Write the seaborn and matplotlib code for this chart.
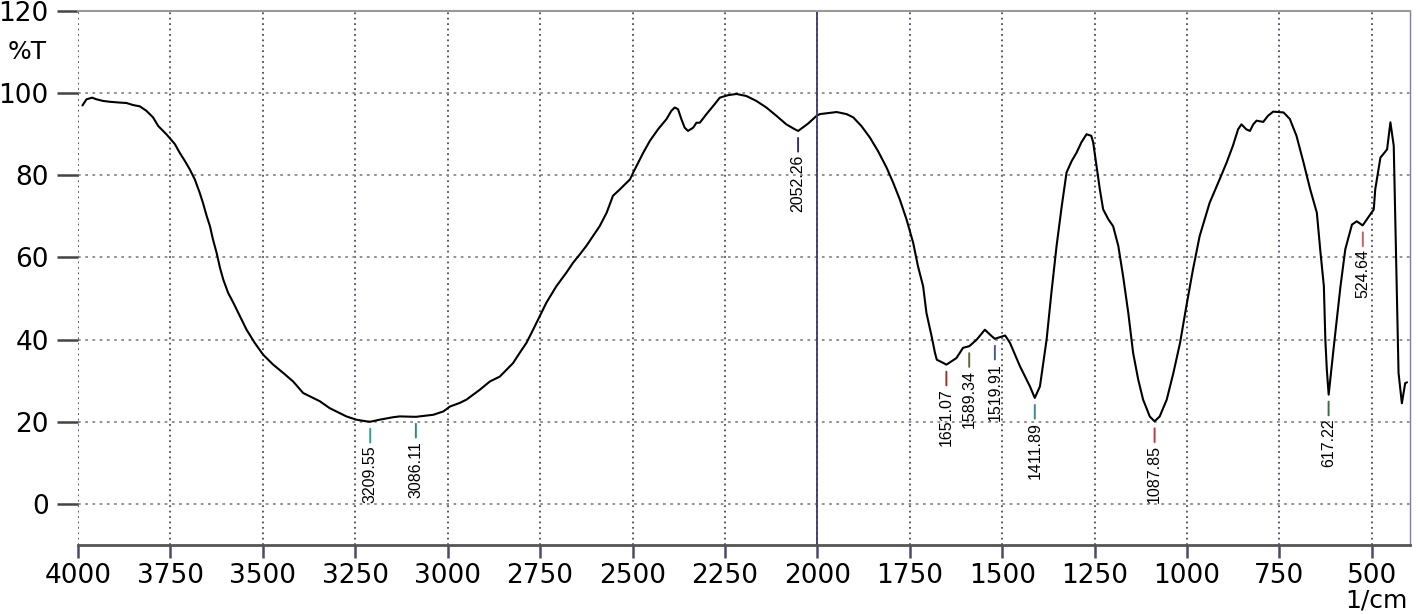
import seaborn as sns
import matplotlib.pyplot as plt

# FTIR spectrum, values
wavenumber = [3988, 3977, 3962, 3950, 3932, 3914, 3887, 3869, 3851, 3833,
              3815, 3797, 3783, 3761, 3738, 3725, 3711, 3698, 3684, 3671,
              3662, 3652, 3643, 3635, 3625, 3616, 3607, 3594, 3580, 3562,
              3544, 3522, 3499, 3472, 3445, 3418, 3391, 3364, 3346, 3319,
              3301, 3274, 3247, 3220, 3210, 3184, 3148, 3130, 3086, 3039,
              3012, 2994, 2967, 2949, 2913, 2886, 2859, 2823, 2805, 2787,
              2769, 2751, 2733, 2706, 2679, 2661, 2643, 2625, 2607, 2589,
              2570, 2553, 2534, 2507, 2498, 2489, 2471, 2453, 2431, 2408,
              2395, 2386, 2377, 2368, 2359, 2350, 2336, 2327, 2318, 2300,
              2278, 2264, 2242, 2219, 2192, 2165, 2138, 2111, 2084, 2061,
              2052, 2025, 2002, 1993, 1948, 1921, 1903, 1881, 1858, 1836,
              1813, 1795, 1777, 1759, 1741, 1728, 1714, 1705, 1691, 1682,
              1677, 1659, 1651, 1624, 1606, 1589, 1569, 1547, 1528, 1520,
              1492, 1479, 1452, 1425, 1412, 1398, 1380, 1367, 1353, 1339,
              1326, 1312, 1299, 1286, 1272, 1259, 1254, 1245, 1236, 1227,
              1213, 1200, 1186, 1173, 1159, 1146, 1132, 1119, 1101, 1088,
              1074, 1055, 1037, 1019, 1002, 984, 966, 939, 912, 893,
              876, 862, 853, 840, 830, 821, 812, 794, 781, 767,
              739, 722, 704, 685, 667, 649, 639, 630, 626, 622,
              617, 603, 585, 572, 554, 541, 525, 495, 491, 477,
              459, 450, 441, 437, 428, 419, 410, 405]
transmittance = [97.0, 98.5, 98.9, 98.5, 98.1, 97.9, 97.7, 97.6, 97.1, 96.8,
                 95.7, 94.1, 92.0, 90.0, 87.6, 85.5, 83.5, 81.5, 79.0, 75.8,
                 73.3, 70.1, 67.6, 64.4, 61.1, 57.5, 54.6, 51.4, 49.0, 45.7,
                 42.4, 39.2, 36.3, 33.9, 31.9, 29.8, 27.0, 25.8, 25.0, 23.3,
                 22.5, 21.3, 20.5, 20.1, 20.0, 20.5, 21.1, 21.3, 21.2, 21.7,
                 22.5, 23.7, 24.6, 25.4, 27.8, 29.8, 31.0, 34.3, 36.8, 39.2,
                 42.4, 45.7, 49.0, 53.0, 56.3, 58.7, 60.7, 62.8, 65.2, 67.6,
                 70.9, 75.0, 76.6, 79.0, 80.7, 82.3, 85.5, 88.4, 91.2, 93.7,
                 95.7, 96.5, 96.1, 93.7, 91.6, 90.8, 91.6, 92.8, 92.8, 94.9,
                 97.3, 98.9, 99.5, 99.8, 99.3, 98.1, 96.5, 94.5, 92.4, 91.2,
                 90.8, 92.6, 94.5, 94.9, 95.4, 94.9, 94.1, 92.0, 89.2, 85.9,
                 81.9, 78.2, 74.1, 69.3, 63.6, 57.9, 53.0, 46.5, 40.8, 36.8,
                 35.1, 34.3, 33.9, 35.5, 38.0, 38.4, 40.0, 42.4, 40.8, 40.2,
                 41.0, 39.2, 33.5, 28.6, 25.8, 28.6, 40.0, 51.4, 62.8, 72.5,
                 80.7, 83.5, 85.5, 88.0, 90.0, 89.6, 88.0, 82.3, 76.6, 71.7,
                 69.3, 67.6, 62.8, 55.4, 46.5, 36.8, 30.2, 25.4, 21.3, 20.1,
                 21.3, 25.4, 31.9, 39.2, 48.1, 57.1, 65.2, 73.3, 79.0, 83.1,
                 87.2, 91.2, 92.4, 91.2, 90.8, 92.4, 93.3, 93.0, 94.5, 95.5,
                 95.3, 93.7, 89.6, 83.1, 76.6, 70.9, 61.1, 53.0, 40.0, 32.7,
                 26.6, 38.4, 53.0, 62.0, 68.0, 68.8, 67.8, 71.7, 76.6, 84.3,
                 86.3, 92.9, 87.2, 70.1, 31.9, 24.5, 29.4, 29.6]

peak_labels = ["3209.55", "3086.11", "2052.26", "1651.07", "1589.34",
               "1519.91", "1411.89", "1087.85", "617.22", "524.64"]
peak_wn = [3209.55, 3086.11, 2052.26, 1651.07, 1589.34,
           1519.91, 1411.89, 1087.85, 617.22, 524.64]
peak_t = [20.0, 21.2, 90.8, 33.9, 38.4, 40.2, 25.8, 20.1, 26.6, 67.8]
peak_colors = ["#3a9a9a", "#2a8a8a", "#2b3a6b", "#8b3a2a", "#5a6a3a",
               "#4a5a8a", "#3a8a9a", "#b04040", "#3a6a4a", "#c06060"]

x_ticks = [4000, 3750, 3500, 3250, 3000, 2750, 2500, 2250, 2000,
           1750, 1500, 1250, 1000, 750, 500]
y_ticks = [0, 20, 40, 60, 80, 100, 120]

sns.set_theme(style="white")
plt.rcParams['font.family'] = ['DejaVu Sans']
plt.rcParams['text.color'] = 'black'

fig = plt.figure(figsize=(14.18, 6.14), dpi=100)
ax = fig.add_axes([78 / 1418, 0.1124, 1332 / 1418, 0.8697])

sns.lineplot(x=wavenumber, y=transmittance, sort=False, color="black",
             linewidth=1.5, ax=ax)

ax.set_xlim(4000, 397)
ax.set_ylim(-10, 120)
ax.set_xticks(x_ticks)
ax.set_yticks(y_ticks)

# dotted chart-paper grid
ax.xaxis.grid(True, linestyle=(0, (1, 2)), color="#4a4a6a", linewidth=1.3)
ax.yaxis.grid(True, linestyle=(0, (1.5, 2.5)), color="#8a8a8a", linewidth=1.3)
ax.set_axisbelow(True)
ax.axvline(2000, color="#3b3b6b", linewidth=1.3)

ax.spines["left"].set_visible(False)
ax.spines["top"].set_color("#999999")
ax.spines["top"].set_linewidth(1.5)
ax.spines["right"].set_color("#8a7a9a")
ax.spines["right"].set_linewidth(1.0)
ax.spines["bottom"].set_color("#555555")
ax.spines["bottom"].set_linewidth(2.0)

ax.tick_params(axis="y", direction="out", length=15, width=1.8,
               color="#444444", pad=6, labelsize=19, labelcolor="black", left=True)
ax.tick_params(axis="x", direction="out", length=9, width=1.8,
               color="#4a4a6a", pad=4, labelsize=19, labelcolor="black", bottom=True)
ax.set_xlabel("")
ax.set_ylabel("")

fig.text(8 / 1418, 1 - 52 / 614, "%T", fontsize=18, ha="left", va="center")
fig.text(1408 / 1418, 1 - 600 / 614, "1/cm", fontsize=18, ha="right", va="center")

for lab, w, t, c in zip(peak_labels, peak_wn, peak_t, peak_colors):
    ax.annotate(lab, xy=(w, t - 1.7), xytext=(0, -17), textcoords="offset pixels",
                rotation=90, ha="center", va="top", fontsize=11.5, color="black",
                family=["Liberation Sans", "DejaVu Sans"],
                arrowprops=dict(arrowstyle="-", color=c, lw=1.4,
                                shrinkA=0, shrinkB=0))

fig.savefig("out.png", dpi=100)
